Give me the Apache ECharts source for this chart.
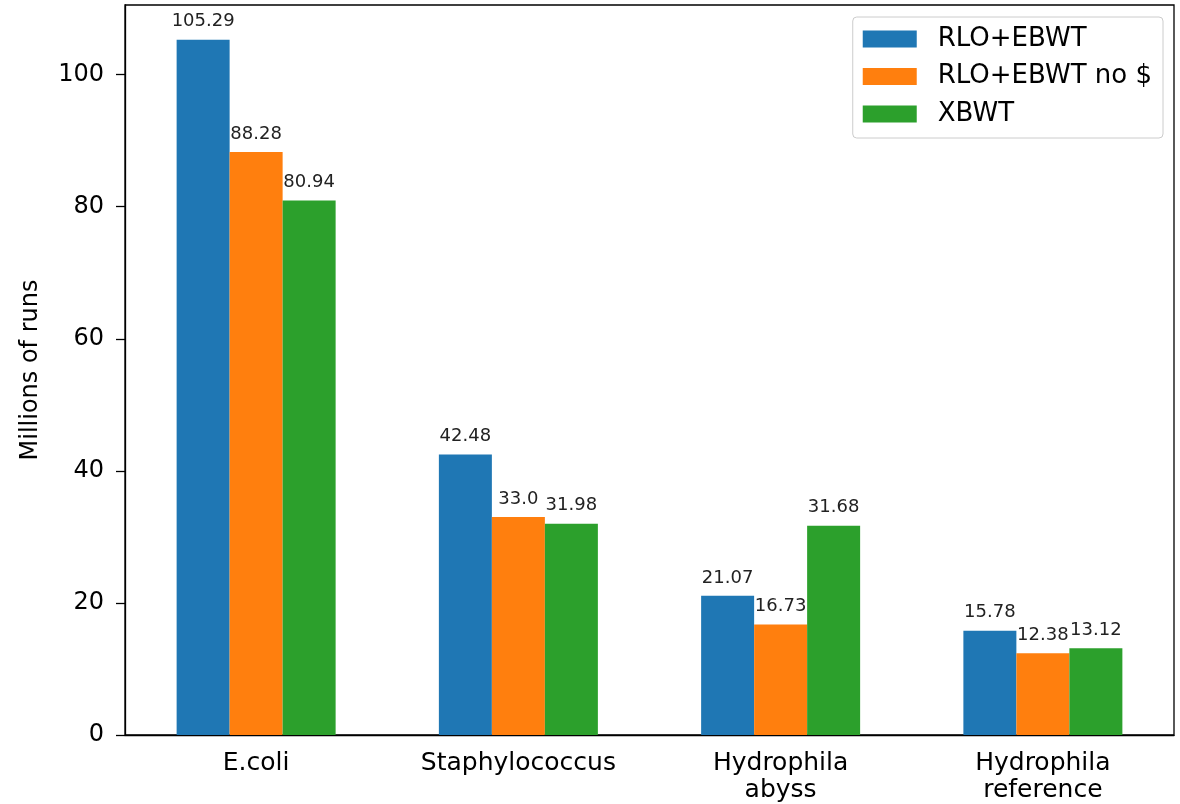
<!DOCTYPE html>
<html>
<head>
<meta charset="utf-8">
<script src="https://cdn.jsdelivr.net/npm/echarts@6/dist/echarts.min.js"></script>
<style>
html,body{margin:0;padding:0;background:#fff;}
#chart{width:1180px;height:804px;}
</style>
</head>
<body>
<div id="chart"></div>
<script>
const categories = ['E.coli', 'Staphylococcus', 'Hydrophila\nabyss', 'Hydrophila\nreference'];
const seriesNames = ['RLO+EBWT', 'RLO+EBWT no $', 'XBWT'];
const rloEbwt = [105.29, 42.48, 21.07, 15.78];
const rloEbwtNoDollar = [88.28, 33.0, 16.73, 12.38];
const xbwt = [80.94, 31.98, 31.68, 13.12];
const yTicks = [0, 20, 40, 60, 80, 100];
const colors = ['#1f77b4', '#ff7f0e', '#2ca02c'];

const FONT = 'DejaVu Sans';
const fmt = v => Number.isInteger(v) ? v.toFixed(1) : String(v);

const chart = echarts.init(document.getElementById('chart'), null, {renderer: 'canvas'});
const seriesData = [rloEbwt, rloEbwtNoDollar, xbwt];

chart.setOption({
  animation: false,
  backgroundColor: '#ffffff',
  grid: {
    left: 125, right: 6, top: 5, bottom: 69,
    show: true, borderColor: '#000', borderWidth: 1.3, backgroundColor: 'transparent'
  },
  legend: {
    orient: 'vertical',
    right: 17, top: 17,
    itemWidth: 54, itemHeight: 17, itemGap: 11.5,
    padding: [9, 11, 11, 10],
    backgroundColor: '#fff',
    borderColor: '#cccccc', borderWidth: 1, borderRadius: 4,
    icon: 'rect',
    textStyle: {fontFamily: FONT, fontSize: 26, color: '#000', padding: [0, 0, 0, 16]},
    data: seriesNames
  },
  xAxis: {
    type: 'category',
    data: categories,
    boundaryGap: true,
    axisLine: {lineStyle: {color: '#000', width: 1.3}},
    axisTick: {alignWithLabel: true, length: 9, lineStyle: {color: '#000', width: 1.3}},
    axisLabel: {fontFamily: FONT, fontSize: 25, color: '#000', margin: 15, lineHeight: 27, interval: 0}
  },
  yAxis: {
    type: 'value',
    min: 0, max: 110.55, interval: 20,
    name: 'Millions of runs',
    nameLocation: 'middle',
    nameGap: 82,
    nameRotate: 90,
    nameTextStyle: {fontFamily: FONT, fontSize: 24, color: '#000'},
    splitLine: {show: false},
    axisLine: {show: true, lineStyle: {color: '#000', width: 1.3}},
    axisTick: {show: true, length: 9, lineStyle: {color: '#000', width: 1.3},
      customValues: yTicks},
    axisLabel: {fontFamily: FONT, fontSize: 24, color: '#000', margin: 21,
      customValues: yTicks}
  },
  series: seriesNames.map((name, i) => ({
    name: name,
    type: 'bar',
    data: seriesData[i],
    barWidth: 53,
    barGap: '0%',
    itemStyle: {color: colors[i]},
    label: {
      show: true, position: 'top', distance: 9,
      fontFamily: FONT, fontSize: 18, color: '#222',
      formatter: p => fmt(p.value)
    }
  }))
});
</script>
</body>
</html>
